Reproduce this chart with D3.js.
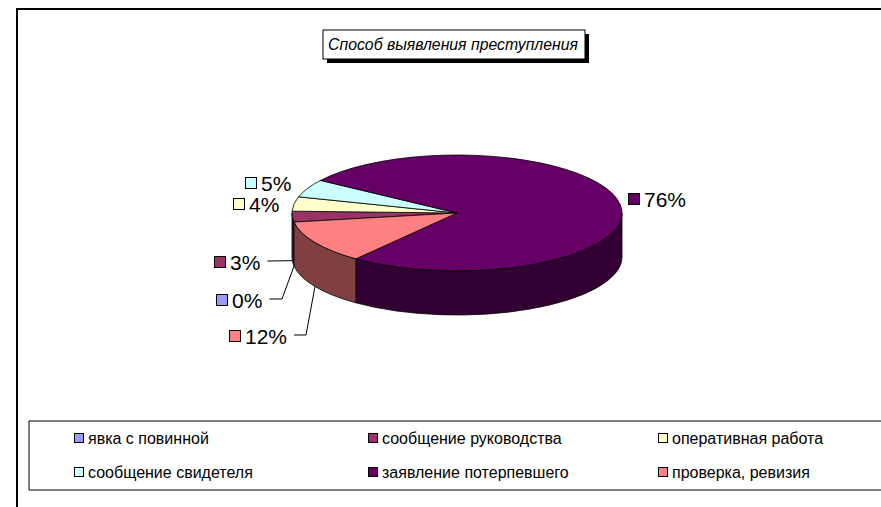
<!DOCTYPE html>
<html>
<head>
<meta charset="utf-8">
<script src="https://cdn.jsdelivr.net/npm/d3@7"></script>
<style>
  body { margin: 0; background: #fff; }
  svg { display: block; font-family: Arial, "Liberation Sans", sans-serif; }
</style>
</head>
<body>
<div id="chart"></div>
<script>
// data
const categories = ["явка с повинной", "сообщение руководства", "оперативная работа",
                    "сообщение свидетеля", "заявление потерпевшего", "проверка, ревизия"];
const values = [0, 3, 4, 5, 76, 12];
const topColors = ["#9999ff", "#993366", "#ffffcc", "#ccffff", "#660066", "#ff8080"];
const sideColors = ["#4d4d80", "#4d1a33", "#808066", "#668080", "#330033", "#804040"];
const title = "Способ выявления преступления";

const width = 881, height = 507;

const svg = d3.select("#chart").append("svg")
    .attr("width", width)
    .attr("height", height);

// outer chart border (runs off right / bottom)
svg.append("path")
    .attr("d", "M17,520 V9 H900")
    .attr("fill", "none")
    .attr("stroke", "#000")
    .attr("stroke-width", 2);

// title box with shadow
const tb = {x: 323, y: 30, w: 262, h: 29};
svg.append("rect").attr("x", tb.x + 4).attr("y", tb.y + 4).attr("width", tb.w).attr("height", tb.h).attr("fill", "#000");
svg.append("rect").attr("x", tb.x).attr("y", tb.y).attr("width", tb.w).attr("height", tb.h)
    .attr("fill", "#fff").attr("stroke", "#000").attr("stroke-width", 1);
svg.append("text")
    .attr("x", tb.x + tb.w / 2 - 1)
    .attr("y", tb.y + 19.5)
    .attr("text-anchor", "middle")
    .attr("font-size", 15.8)
    .attr("font-style", "italic")
    .text(title);

// 3d pie geometry
const cx = 457, cy = 213, rx = 165, ry = 58, depth = 44;
const pt = (a, dy = 0) => [cx + rx * Math.sin(a), cy - ry * Math.cos(a) + dy];

const start = 261 * Math.PI / 180;
const pie = d3.pie().sort(null).startAngle(start).endAngle(start + 2 * Math.PI);
const arcs = pie(values).map((d, i) => ({...d, i}));

const g = svg.append("g");

// side walls: only the front half (90deg..270deg) is visible
function wallPath(a0, a1) {
  const p0 = pt(a0), p1 = pt(a1), q0 = pt(a0, depth), q1 = pt(a1, depth);
  const large = (a1 - a0) > Math.PI ? 1 : 0;
  return `M${p0}A${rx},${ry} 0 ${large} 1 ${p1}L${q1}A${rx},${ry} 0 ${large} 0 ${q0}Z`;
}
const walls = [];
arcs.forEach(d => {
  for (let k = -1; k <= 2; k++) {
    const lo = Math.max(d.startAngle, Math.PI / 2 + k * 2 * Math.PI);
    const hi = Math.min(d.endAngle, 3 * Math.PI / 2 + k * 2 * Math.PI);
    if (hi > lo) walls.push({i: d.i, lo, hi});
  }
});
g.selectAll(".wall").data(walls).enter().append("path")
    .attr("class", "wall")
    .attr("d", w => wallPath(w.lo, w.hi))
    .attr("fill", w => sideColors[w.i])
    .attr("stroke", "#000")
    .attr("stroke-width", 0.8)
    .attr("stroke-linejoin", "round");

// top faces
function topPath(a0, a1) {
  const p0 = pt(a0), p1 = pt(a1);
  const large = (a1 - a0) > Math.PI ? 1 : 0;
  return `M${cx},${cy}L${p0}A${rx},${ry} 0 ${large} 1 ${p1}Z`;
}
g.selectAll(".top").data(arcs.filter(d => d.value > 0)).enter().append("path")
    .attr("class", "top")
    .attr("d", d => topPath(d.startAngle, d.endAngle))
    .attr("fill", d => topColors[d.i])
    .attr("stroke", "#000")
    .attr("stroke-width", 0.8)
    .attr("stroke-linejoin", "round");

// data labels: marker centre position and whether a leader line is drawn
const labelLayout = [
  {x: 222, y: 300, leader: true},
  {x: 220, y: 262, leader: true},
  {x: 239, y: 204, leader: false},
  {x: 251, y: 183, leader: false},
  {x: 634, y: 199, leader: false},
  {x: 235, y: 336, leader: true}
];
const lab = svg.append("g").attr("font-size", 21);
arcs.forEach(d => {
  const L = labelLayout[d.i];
  lab.append("rect")
      .attr("x", L.x - 5.5).attr("y", L.y - 5.5)
      .attr("width", 11).attr("height", 11)
      .attr("fill", topColors[d.i])
      .attr("stroke", "#000").attr("stroke-width", 1);
  const t = lab.append("text")
      .attr("x", L.x + 10)
      .attr("y", L.y + 7.5)
      .text(d3.format(".0f")(d.value) + "%");
  if (L.leader) {
    const end = t.node().getComputedTextLength() + L.x + 10;
    const mid = (d.startAngle + d.endAngle) / 2;
    const anchor = pt(mid, depth);
    const s = [end + 7, L.y - 1];
    const e = [Math.max(s[0] + 12, anchor[0] - 12), L.y - 1];
    const pts = Math.abs(anchor[1] - s[1]) < 4 ? [s, anchor] : [s, e, anchor];
    lab.append("path")
        .attr("d", d3.line()(pts))
        .attr("fill", "none")
        .attr("stroke", "#000")
        .attr("stroke-width", 1);
  }
});

// legend
svg.append("path")
    .attr("d", "M900,421 H29 V490 H900")
    .attr("fill", "none")
    .attr("stroke", "#000")
    .attr("stroke-width", 1);
const colX = [74, 368, 658];
const rowY = [438, 472];
const leg = svg.append("g").attr("font-size", 16);
categories.forEach((c, i) => {
  const x = colX[i % 3], y = rowY[Math.floor(i / 3)];
  leg.append("rect")
      .attr("x", x + 0.5).attr("y", y - 4.5)
      .attr("width", 9).attr("height", 9)
      .attr("fill", topColors[i])
      .attr("stroke", "#000").attr("stroke-width", 1);
  leg.append("text")
      .attr("x", x + 14)
      .attr("y", y + 5.5)
      .text(c);
});
</script>
</body>
</html>
